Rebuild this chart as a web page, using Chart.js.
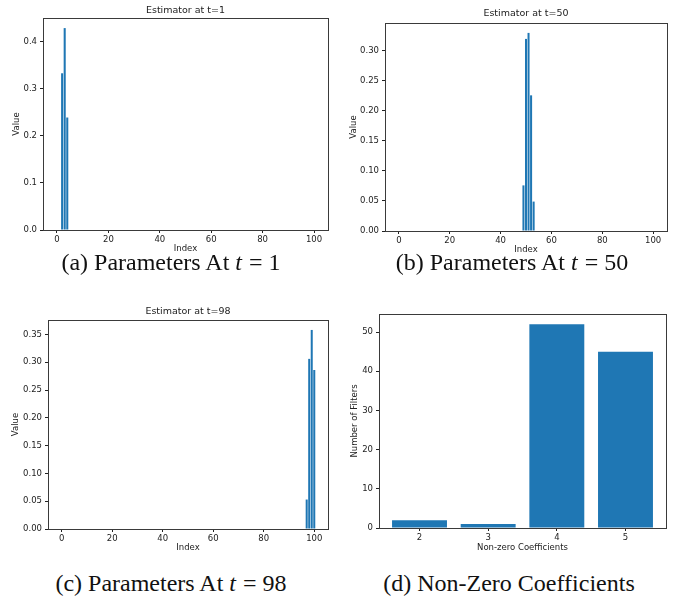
<!DOCTYPE html>
<html>
<head>
<meta charset="utf-8">
<script src="https://cdn.jsdelivr.net/npm/chart.js@4.4.1/dist/chart.umd.min.js"></script>
<style>
  body { margin: 0; background: #fff; }
  #page { position: relative; width: 678px; height: 599px; overflow: hidden; }
  canvas { position: absolute; }
  .cap {
    position: absolute; width: 340px; text-align: center; white-space: pre;
    font-family: "Liberation Serif", "Times New Roman", serif; font-size: 24px; color: #111;
    line-height: 1;
  }
  .cap i { margin-right: 1px; }
</style>
</head>
<body>
<div id="page">
  <canvas id="c1"></canvas>
  <canvas id="c2"></canvas>
  <canvas id="c3"></canvas>
  <canvas id="c4"></canvas>
  <div class="cap" style="left:1px; top:250px;">(a) Parameters At <i>t</i> = 1</div>
  <div class="cap" style="left:342px; top:250px;">(b) Parameters At <i>t</i> = 50</div>
  <div class="cap" style="left:1px; top:571px;">(c) Parameters At <i>t</i> = 98</div>
  <div class="cap" style="left:339px; top:571px;">(d) Non-Zero Coefficients</div>
</div>
<script>
// valores
const t1Index = [2, 3, 4];
const t1Values = [0.333, 0.429, 0.239];
const t50Index = [49, 50, 51, 52, 53];
const t50Values = [0.076, 0.320, 0.330, 0.226, 0.049];
const t98Index = [97, 98, 99, 100];
const t98Values = [0.053, 0.306, 0.358, 0.286];
const coefCategories = [2, 3, 4, 5];
const filterCounts = [2, 1, 52, 45];

const indexTicks = [0, 20, 40, 60, 80, 100];
const t1Ticks = [0, 0.1, 0.2, 0.3, 0.4];
const t50Ticks = [0, 0.05, 0.10, 0.15, 0.20, 0.25, 0.30];
const t98Ticks = [0, 0.05, 0.10, 0.15, 0.20, 0.25, 0.30, 0.35];
const countTicks = [0, 10, 20, 30, 40, 50];

const BLUE = '#1f77b4';
const INK = '#222';
const FONT = 'DejaVu Sans';
const TICK_SIZE = 8.5;

// marco completo alrededor del area del grafico (como matplotlib)
const framePlugin = {
    id: 'frame',
    afterDraw(chart) {
        const a = chart.chartArea;
        const ctx = chart.ctx;
        ctx.save();
        ctx.strokeStyle = '#3a3a3a';
        ctx.lineWidth = 1;
        ctx.strokeRect(Math.round(a.left) + 0.5, Math.round(a.top) + 0.5,
            Math.round(a.right - a.left), Math.round(a.bottom - a.top));
        ctx.restore();
    }
};

function renderPanel(p) {
    const canvas = document.getElementById(p.id);
    canvas.width = p.box.w;
    canvas.height = p.box.h;
    canvas.style.left = p.box.x + 'px';
    canvas.style.top = p.box.y + 'px';

    // titulo centrado sobre los ejes, no sobre el canvas
    const axesTitle = {
        id: 'axesTitle',
        afterDraw(chart) {
            if (!p.title) return;
            const a = chart.chartArea;
            const ctx = chart.ctx;
            ctx.save();
            ctx.fillStyle = INK;
            ctx.font = '9.5px "' + FONT + '"';
            ctx.textAlign = 'center';
            ctx.textBaseline = 'middle';
            ctx.fillText(p.title, (a.left + a.right) / 2, p.titleY - p.box.y);
            ctx.restore();
        }
    };

    const yMax = Math.max(...p.ys) * 1.05;
    const data = p.xs.map((x, i) => ({ x: x, y: p.ys[i] }));
    const half = TICK_SIZE * 1.2 / 2;

    new Chart(canvas, {
        type: 'bar',
        data: {
            datasets: [{
                data: data,
                backgroundColor: BLUE,
                borderWidth: 0,
                barPercentage: 0.8,
                categoryPercentage: 1.0
            }]
        },
        options: {
            responsive: false,
            animation: false,
            layout: {
                padding: {
                    left: 0,
                    top: p.area.t - p.box.y,
                    right: (p.box.x + p.box.w) - p.area.r,
                    bottom: 0
                }
            },
            plugins: {
                legend: { display: false },
                tooltip: { enabled: false },
                title: { display: false }
            },
            scales: {
                x: {
                    type: 'linear',
                    offset: false,
                    min: p.xMin,
                    max: p.xMax,
                    border: { display: false },
                    grid: { display: true, offset: false, drawOnChartArea: false, tickLength: 3, tickColor: INK },
                    ticks: { color: INK, font: { family: FONT, size: TICK_SIZE }, padding: 2, maxRotation: 0 },
                    afterBuildTicks: (s) => { s.ticks = p.xTicks.map(v => ({ value: v })); },
                    afterFit: (s) => { s.height = (p.box.y + p.box.h) - p.area.b; },
                    title: {
                        display: true, text: p.xLabel, color: INK,
                        font: { family: FONT, size: TICK_SIZE, lineHeight: 1.2 },
                        padding: { top: 0, bottom: (p.box.y + p.box.h) - p.xLabelY - half }
                    }
                },
                y: {
                    type: 'linear',
                    min: 0,
                    max: yMax,
                    border: { display: false },
                    grid: { display: true, drawOnChartArea: false, tickLength: 3, tickColor: INK },
                    ticks: {
                        color: INK, font: { family: FONT, size: TICK_SIZE }, padding: 3,
                        callback: (v) => v.toFixed(p.yDecimals)
                    },
                    afterBuildTicks: (s) => { s.ticks = p.yTicks.map(v => ({ value: v })); },
                    afterFit: (s) => { s.width = p.area.l - p.box.x; },
                    title: {
                        display: true, text: p.yLabel, color: INK,
                        font: { family: FONT, size: TICK_SIZE, lineHeight: 1.2 },
                        padding: { top: p.yLabelX - p.box.x - half, bottom: 0 }
                    }
                }
            }
        },
        plugins: [framePlugin, axesTitle]
    });
}

// limites del eje x como matplotlib: ancho 0.8 + margen 5%
function barLimits(first, last) {
    const lo = first - 0.4, hi = last + 0.4;
    const m = (hi - lo) * 0.05;
    return [lo - m, hi + m];
}

const idxLim = barLimits(0, 100);
const coefLim = barLimits(2, 5);

renderPanel({
    id: 'c1', box: { x: 0, y: 0, w: 340, h: 258 },
    area: { l: 43, t: 18, r: 328, b: 230 },
    title: 'Estimator at t=1', titleY: 10.5,
    xLabel: 'Index', xLabelY: 249, yLabel: 'Value', yLabelX: 16.5,
    xs: t1Index, ys: t1Values, xMin: idxLim[0], xMax: idxLim[1],
    xTicks: indexTicks, yTicks: t1Ticks, yDecimals: 1
});

renderPanel({
    id: 'c2', box: { x: 340, y: 0, w: 338, h: 258 },
    area: { l: 385, t: 23, r: 667, b: 231 },
    title: 'Estimator at t=50', titleY: 14,
    xLabel: 'Index', xLabelY: 249.5, yLabel: 'Value', yLabelX: 354,
    xs: t50Index, ys: t50Values, xMin: idxLim[0], xMax: idxLim[1],
    xTicks: indexTicks, yTicks: t50Ticks, yDecimals: 2
});

renderPanel({
    id: 'c3', box: { x: 0, y: 290, w: 340, h: 266 },
    area: { l: 48, t: 320, r: 328, b: 529 },
    title: 'Estimator at t=98', titleY: 312,
    xLabel: 'Index', xLabelY: 548, yLabel: 'Value', yLabelX: 16,
    xs: t98Index, ys: t98Values, xMin: idxLim[0], xMax: idxLim[1],
    xTicks: indexTicks, yTicks: t98Ticks, yDecimals: 2
});

renderPanel({
    id: 'c4', box: { x: 340, y: 290, w: 338, h: 266 },
    area: { l: 379, t: 314, r: 666, b: 528 },
    title: null,
    xLabel: 'Non-zero Coefficients', xLabelY: 548, yLabel: 'Number of Filters', yLabelX: 355,
    xs: coefCategories, ys: filterCounts, xMin: coefLim[0], xMax: coefLim[1],
    xTicks: coefCategories, yTicks: countTicks, yDecimals: 0
});
</script>
</body>
</html>
